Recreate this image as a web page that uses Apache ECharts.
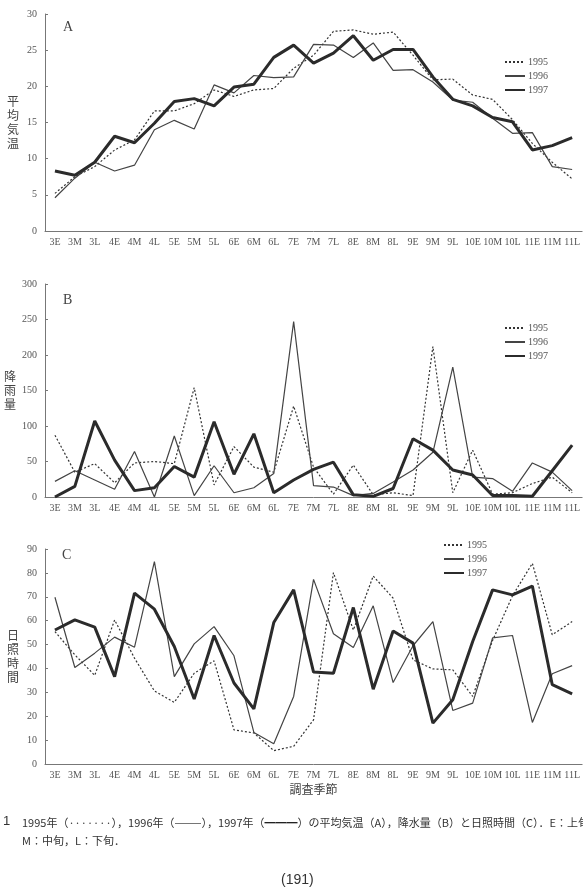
<!doctype html>
<html>
<head>
<meta charset="UTF-8">
<title>平均気温・降水量・日照時間</title>
<style>
  html, body { margin: 0; padding: 0; background: #fff; }
  #main { width: 583px; height: 890px; }
</style>
</head>
<body>
<div id="main"></div>
<script src="https://cdn.jsdelivr.net/npm/echarts@6/dist/echarts.min.js"></script>
<script>
// 調査季節（上旬E・中旬M・下旬L）
var seasons = ['3E','3M','3L','4E','4M','4L','5E','5M','5L','6E','6M','6L','7E','7M','7L',
               '8E','8M','8L','9E','9M','9L','10E','10M','10L','11E','11M','11L'];
var years = ['1995', '1996', '1997'];

// A 平均気温
var temp1995 = [5.2,7.5,8.9,11.2,12.6,16.6,16.6,17.6,19.5,18.6,19.5,19.7,22.5,24.3,27.6,27.8,27.2,27.5,24.3,20.9,21.0,18.8,18.2,15.4,12.1,9.5,7.2];
var temp1996 = [4.6,7.3,9.5,8.3,9.1,14.0,15.3,14.1,20.2,19.1,21.5,21.2,21.3,25.8,25.7,24.0,26.0,22.2,22.3,20.6,18.1,17.8,15.6,13.5,13.6,8.9,8.5];
var temp1997 = [8.3,7.7,9.5,13.1,12.2,14.9,17.9,18.3,17.3,19.9,20.3,24.0,25.7,23.2,24.6,27.0,23.6,25.1,25.1,21.3,18.2,17.3,15.7,15.1,11.2,11.8,12.9];

// B 降雨量
var rain1995 = [87,35,47,20,48,50,47,154,17,71,42,35,128,42,4,45,3,6,2,212,6,66,4,6,19,28,6];
var rain1996 = [22,37,24,11,64,0,86,2,44,6,13,33,247,16,14,2,5,21,38,63,183,28,26,8,48,35,9];
var rain1997 = [0,15,107,52,9,13,43,28,106,32,89,6,24,39,49,3,1,12,82,66,38,31,2,2,1,37,73];

// C 日照時間
var sun1995 = [55.4,45.7,37.1,60.3,44.3,30.6,25.8,38.0,43.2,14.3,13.0,5.6,7.4,18.5,80.1,56.1,78.7,69.4,43.6,39.8,39.4,28.3,51.7,70.4,84.0,54.1,59.6];
var sun1996 = [69.8,40.4,46.4,53.1,48.9,84.7,36.6,50.3,57.5,45.3,13.2,8.5,28.3,77.3,54.5,48.8,66.2,34.1,49.5,59.6,22.4,25.5,52.8,53.8,17.4,37.8,41.2];
var sun1997 = [56.1,60.3,57.3,36.6,71.5,64.8,49.2,27.2,53.8,33.9,23.1,59.2,72.9,38.5,38.0,65.5,31.3,55.7,50.6,17.1,26.9,51.3,72.9,70.8,74.5,33.2,29.4];

var myChart = echarts.init(document.getElementById('main'));

var serif = '"Liberation Serif", "DejaVu Serif", serif';
var jp = '"Noto Sans CJK JP", sans-serif';

var grids = [
    {left: 45, right: 0, top: 14, height: 217},
    {left: 45, right: 0, top: 284, height: 213},
    {left: 45, right: 0, top: 549, height: 215}
];

function xAxisFor(i, withName) {
    var ax = {
        type: 'category', gridIndex: i, data: seasons, boundaryGap: true,
        axisLine: {lineStyle: {color: '#777', width: 1}},
        axisTick: {inside: true, length: 4, lineStyle: {color: '#777'}},
        axisLabel: {interval: 0, margin: 6, fontFamily: serif, fontSize: 10, color: '#555'}
    };
    if (withName) {
        ax.name = '調査季節';
        ax.nameLocation = 'middle';
        ax.nameGap = 19;
        ax.nameTextStyle = {fontFamily: jp, fontSize: 12, color: '#444'};
    }
    return ax;
}

function yAxisFor(i, name, max, step) {
    return {
        type: 'value', gridIndex: i, min: 0, max: max, interval: step,
        name: name.split('').join('\n'),
        nameLocation: 'middle', nameRotate: 0, nameGap: 26,
        nameTextStyle: {fontFamily: jp, fontSize: 12, lineHeight: 14, color: '#444'},
        axisLine: {show: true, lineStyle: {color: '#777'}},
        axisTick: {show: true, inside: true, length: 3, lineStyle: {color: '#777'}},
        axisLabel: {margin: 8, fontFamily: serif, fontSize: 10, color: '#555'},
        splitLine: {show: false}
    };
}

var styles = {
    '1995': {color: '#333', width: 1.2, type: [2, 2]},
    '1996': {color: '#444', width: 1.2, type: 'solid'},
    '1997': {color: '#2b2b2b', width: 3, type: 'solid'}
};

function lineSeries(name, gi, data) {
    return {
        name: name, type: 'line', xAxisIndex: gi, yAxisIndex: gi,
        data: data, symbol: 'none', showSymbol: false, smooth: false,
        lineStyle: styles[name], itemStyle: {color: styles[name].color},
        emphasis: {disabled: true}, animation: false
    };
}

function legendAt(left, top) {
    return {
        data: years, orient: 'vertical', left: left, top: top,
        itemWidth: 20, itemHeight: 10, itemGap: 4,
        itemStyle: {opacity: 0},
        textStyle: {fontFamily: serif, fontSize: 10, color: '#555', padding: [0, 0, 0, -2]},
        selectedMode: false
    };
}

function panelLetter(txt, x, y) {
    return {
        type: 'text', left: x, top: y,
        style: {text: txt, fontFamily: serif, fontSize: 14, fill: '#444'}
    };
}

option = {
    backgroundColor: '#fff',
    grid: grids,
    xAxis: [xAxisFor(0, false), xAxisFor(1, false), xAxisFor(2, true)],
    yAxis: [
        yAxisFor(0, '平均気温', 30, 5),
        yAxisFor(1, '降雨量', 300, 50),
        yAxisFor(2, '日照時間', 90, 10)
    ],
    legend: [legendAt(499, 52), legendAt(499, 318), legendAt(438, 535)],
    series: [
        lineSeries('1995', 0, temp1995),
        lineSeries('1996', 0, temp1996),
        lineSeries('1997', 0, temp1997),
        lineSeries('1995', 1, rain1995),
        lineSeries('1996', 1, rain1996),
        lineSeries('1997', 1, rain1997),
        lineSeries('1995', 2, sun1995),
        lineSeries('1996', 2, sun1996),
        lineSeries('1997', 2, sun1997)
    ],
    graphic: [
        panelLetter('A', 63, 20),
        panelLetter('B', 63, 293),
        panelLetter('C', 62, 548),
        {
            type: 'text', left: 3, top: 815,
            style: {text: '1', fontFamily: '"Liberation Sans", sans-serif', fontSize: 13, fill: '#333'}
        },
        {
            type: 'text', left: 22, top: 814,
            style: {
                text: '1995年（·······），1996年（———），1997年（{b|━━━}）の平均気温（A），降水量（B）と日照時間（C）．E：上旬，\nM：中旬，L：下旬．',
                fontFamily: jp, fontSize: 11, lineHeight: 18, fill: '#333',
                rich: {b: {fontFamily: jp, fontSize: 11, fontWeight: 'bold', fill: '#222'}}
            }
        },
        {
            type: 'text', left: 281, top: 873,
            style: {text: '(191)', fontFamily: '"Liberation Sans", sans-serif', fontSize: 14, fill: '#333'}
        }
    ]
};

myChart.setOption(option);
</script>
</body>
</html>
